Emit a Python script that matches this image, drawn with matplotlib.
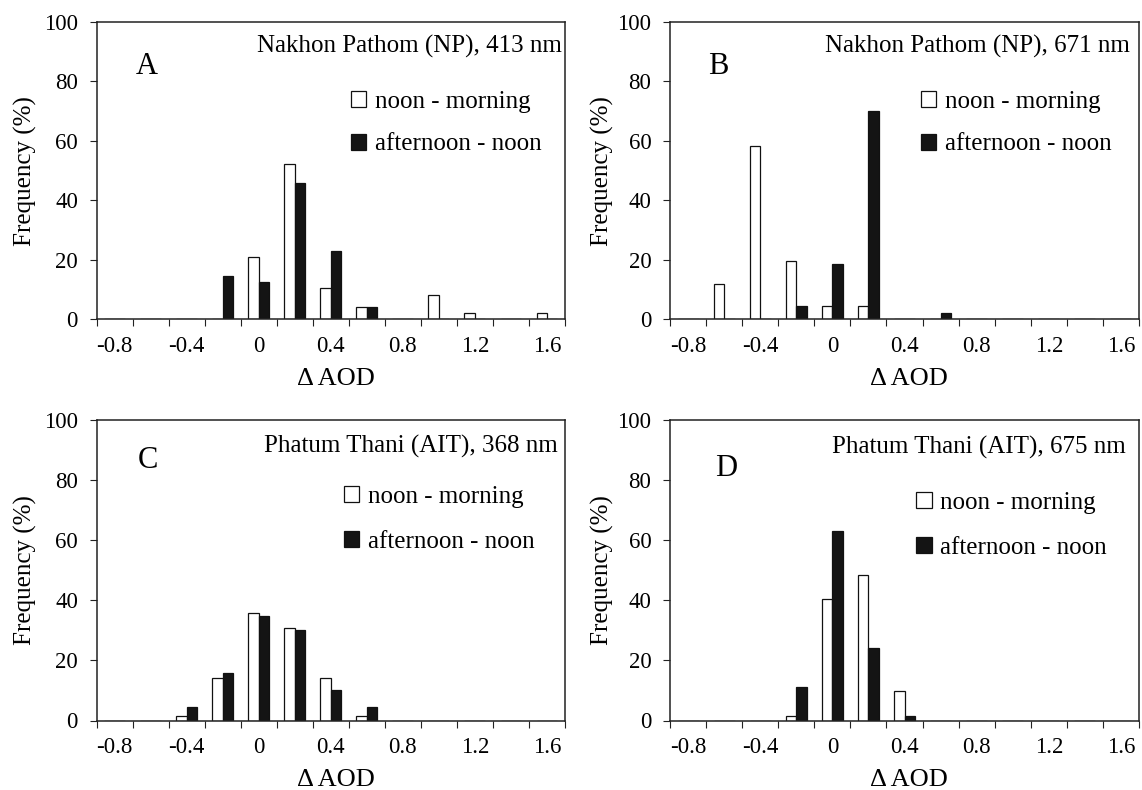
import matplotlib.pyplot as plt
import numpy as np
from matplotlib.patches import Patch

plt.rcParams['font.family'] = ['Liberation Serif', 'DejaVu Serif']

# delta AOD categories (bin centres) and the labels shown under every second one
aod_bins = [-0.8, -0.6, -0.4, -0.2, 0.0, 0.2, 0.4, 0.6, 0.8, 1.0, 1.2, 1.4, 1.6]
tick_labels = ['-0.8', '-0.4', '0', '0.4', '0.8', '1.2', '1.6']

# frequency (%) in each bin
np413_noon_morning = [0, 0, 0, 0, 20.8, 52.1, 10.4, 4.2, 0, 8.3, 2.1, 0, 2.1]
np413_afternoon_noon = [0, 0, 0, 14.6, 12.5, 45.8, 22.9, 4.2, 0, 0, 0, 0, 0]
np671_noon_morning = [0, 12.0, 58.3, 19.5, 4.5, 4.5, 0, 0, 0, 0, 0, 0, 0]
np671_afternoon_noon = [0, 0, 0, 4.5, 18.5, 70.0, 0, 2.2, 0, 0, 0, 0, 0]
ait368_noon_morning = [0, 0, 1.6, 14.2, 35.9, 30.8, 14.2, 1.6, 0, 0, 0, 0, 0]
ait368_afternoon_noon = [0, 0, 4.4, 15.9, 34.9, 30.2, 10.2, 4.4, 0, 0, 0, 0, 0]
ait675_noon_morning = [0, 0, 0, 1.6, 40.3, 48.4, 9.7, 0, 0, 0, 0, 0, 0]
ait675_afternoon_noon = [0, 0, 0, 11.3, 62.9, 24.2, 1.6, 0, 0, 0, 0, 0, 0]

series_names = ['noon - morning', 'afternoon - noon']

W, H = 1142, 790
fig = plt.figure(figsize=(W / 100, H / 100), dpi=100)

# panel: (letter, title, white data, black data, axes box in pixels (l, t, r, b),
#         title right/centre y, letter centre, legend top-left, ylabel right x, legend spacing)
panels = [
    ('A', 'Nakhon Pathom (NP), 413 nm', np413_noon_morning, np413_afternoon_noon,
     (96.7, 22, 565, 319.3), (562, 46), (147, 67), (350.7, 91), 37, 0.82),
    ('B', 'Nakhon Pathom (NP), 671 nm', np671_noon_morning, np671_afternoon_noon,
     (670, 22, 1139, 319.3), (1130, 46), (718, 67), (920.7, 91), 614, 0.82),
    ('C', 'Phatum Thani (AIT), 368 nm', ait368_noon_morning, ait368_afternoon_noon,
     (96.7, 420, 565, 720.5), (558, 446), (148, 461), (344, 486), 37, 0.92),
    ('D', 'Phatum Thani (AIT), 675 nm', ait675_noon_morning, ait675_afternoon_noon,
     (670, 420, 1139, 720.5), (1126, 447), (726, 468), (916, 492), 614, 0.92),
]

idx = np.arange(len(aod_bins))
bar_w = 0.29

for letter, title, white, black, box, tpos, lpos, legpos, ylab_x, legsp in panels:
    l, t, r, b = box
    ax = fig.add_axes([l / W, 1 - b / H, (r - l) / W, (b - t) / H])

    ax.bar(idx - bar_w / 2, white, bar_w, color='white', edgecolor='#111111', linewidth=0.9)
    ax.bar(idx + bar_w / 2, black, bar_w, color='#141414', edgecolor='#111111', linewidth=0.9)

    ax.set_xlim(-0.5, len(aod_bins) - 0.5)
    ax.set_ylim(0, 100)
    ax.set_yticks(np.arange(0, 101, 20))

    # tick marks between categories, labels under every second category
    ax.set_xticks(np.arange(-0.5, len(aod_bins), 1), [''] * (len(aod_bins) + 1))
    ax.set_xticks(idx[::2], tick_labels, minor=True)
    ax.tick_params(axis='x', which='major', direction='out', length=5, width=0.8, color='#222222')
    ax.tick_params(axis='x', which='minor', length=0, pad=12, labelsize=16.5)
    ax.tick_params(axis='y', direction='out', length=5, width=0.8, color='#222222',
                   pad=8.5, labelsize=16.5)

    for s in ax.spines.values():
        s.set_linewidth(1.1)
        s.set_color('#222222')

    ax.set_ylabel('Frequency (%)', fontsize=18)
    ax.yaxis.set_label_coords((ylab_x - l) / (r - l), 0.5)
    ax.set_xlabel('\u0394 AOD', fontsize=19)
    ax.xaxis.set_label_coords(0.51, -0.163)

    ax.text((tpos[0] - l) / (r - l), (b - tpos[1]) / (b - t), title, transform=ax.transAxes,
            ha='right', va='center', fontsize=18)
    ax.text((lpos[0] - l) / (r - l), (b - lpos[1]) / (b - t), letter, transform=ax.transAxes,
            ha='center', va='center', fontsize=22)

    handles = [Patch(facecolor='white', edgecolor='#111111', linewidth=0.9),
               Patch(facecolor='#141414', edgecolor='#111111', linewidth=0.9)]
    ax.legend(handles, series_names, loc='upper left',
              bbox_to_anchor=(legpos[0] / W, 1 - legpos[1] / H), bbox_transform=fig.transFigure,
              frameon=False, borderpad=0, borderaxespad=0, fontsize=18,
              handlelength=0.62, handleheight=0.62, handletextpad=0.35, labelspacing=legsp)

plt.savefig('out.png', dpi=100)
